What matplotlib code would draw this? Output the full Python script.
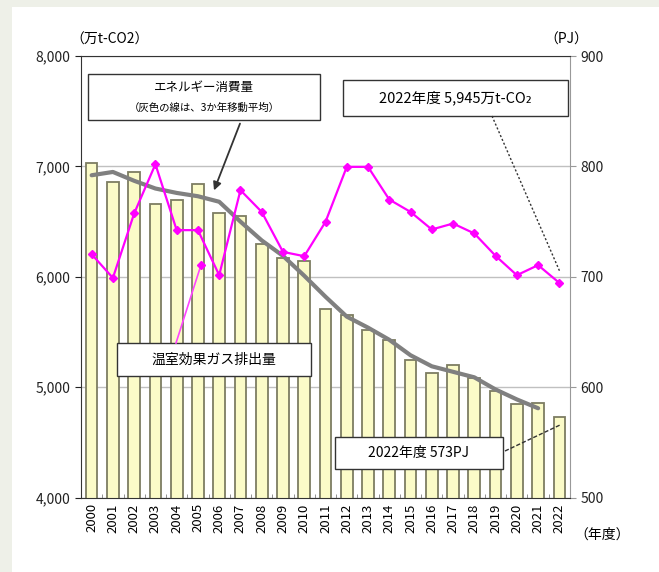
import numpy as np
import matplotlib
matplotlib.use('Agg')
import matplotlib.pyplot as plt
from matplotlib.patches import Rectangle

plt.rcParams['font.family'] = ['Noto Sans CJK JP', 'DejaVu Sans']

# Data
years = [str(y) for y in range(2000, 2023)]
energy_pj = [803, 786, 795, 766, 770, 784, 758, 755, 730, 717, 714, 671,
             665, 652, 643, 625, 613, 620, 608, 597, 585, 586, 573]
energy_avg = [792, 795, 787, 780, 776, 773, 768, 750, 733, 719, 701, 682,
              664, 654, 643, 629, 619, 614, 609, 598, 589, 581]
ghg = [6205, 5990, 6574, 7020, 6423, 6423, 6015, 6785, 6588, 6226, 6187, 6498,
       6996, 6996, 6700, 6588, 6429, 6483, 6393, 6190, 6015, 6106, 5945]

W, H = 659, 572


def fx(px):
    return px / W


def fy(py):
    return 1 - py / H


fig = plt.figure(figsize=(6.59, 5.72), dpi=100)
fig.patch.set_facecolor('white')
# light border strips of the screenshot
fig.patches.append(Rectangle((0, 0), fx(12), 1, transform=fig.transFigure,
                             facecolor='#eef0e8', edgecolor='none', zorder=0))
fig.patches.append(Rectangle((0, fy(7)), 1, fy(0) - fy(7), transform=fig.transFigure,
                             facecolor='#eef0e8', edgecolor='none', zorder=0))

ax = fig.add_axes([fx(81), fy(497.7), fx(570) - fx(81), fy(56) - fy(497.7)])
ax2 = ax.twinx()

x = np.arange(len(years))

# energy consumption bars and moving average (right axis)
ax2.bar(x, energy_pj, width=0.55, color='#fbfbc8', edgecolor='#7d7d62',
        linewidth=1.3, zorder=2)
ax2.plot(x[:len(energy_avg)], energy_avg, color='#808080', lw=3, zorder=3,
         solid_capstyle='round')
ax2.set_ylim(500, 900)
ax2.set_yticks([500, 600, 700, 800, 900])
ax2.yaxis.grid(True, color='#c0c0c0', lw=1)
ax2.set_axisbelow(True)

# GHG emissions (left axis)
ax.plot(x, ghg, color='#ff00ff', lw=1.6, marker='D', markersize=4.5, zorder=5)
ax.set_ylim(4000, 8000)
ax.set_yticks([4000, 5000, 6000, 7000, 8000])
ax.set_yticklabels([f'{v:,}' for v in [4000, 5000, 6000, 7000, 8000]])
ax.set_zorder(ax2.get_zorder() + 1)
ax.patch.set_visible(False)

ax.set_xlim(-0.5, len(years) - 0.5)
ax.set_xticks(x)
ax.set_xticklabels(years, rotation=90, fontsize=9.5)
ax.set_xticks(np.arange(-0.5, len(years)), minor=True)
ax.tick_params(axis='x', which='major', length=0, pad=4)
ax.tick_params(axis='x', which='minor', length=3, direction='in', color='#808080')
ax.tick_params(axis='y', length=4, labelsize=10, colors='#222222')
ax2.tick_params(axis='y', length=4, labelsize=10, color='#999999', labelcolor='#222222')

for s in ['left', 'bottom', 'top']:
    ax.spines[s].set_color('#333333')
ax.spines['right'].set_color('#999999')
for s in ax2.spines.values():
    s.set_visible(False)

# unit labels
fig.text(fx(70), fy(40), '（万t-CO2）', fontsize=10, va='center', ha='left')
fig.text(fx(588), fy(40), '（PJ）', fontsize=10, va='center', ha='right')
fig.text(fx(574), fy(535), '（年度）', fontsize=10, va='center', ha='left')


def box(x0, y0, x1, y1):
    fig.patches.append(Rectangle((fx(x0), fy(y1)), fx(x1) - fx(x0), fy(y0) - fy(y1),
                                 transform=fig.transFigure, facecolor='white',
                                 edgecolor='#333333', lw=1, zorder=10))


# energy callout
box(88, 74, 320, 120)
fig.text(fx(204), fy(88), 'エネルギー消費量', fontsize=9, ha='center', va='center', zorder=11)
fig.text(fx(204), fy(108), '（灰色の線は、3か年移動平均）', fontsize=7.5, ha='center',
         va='center', zorder=11)
fig.add_artist(matplotlib.patches.FancyArrowPatch(
    (fx(241), fy(121)), (fx(213), fy(193)), transform=fig.transFigure,
    arrowstyle='-|>', mutation_scale=12, color='#333333', lw=1.3, zorder=11))

# emissions 2022 callout
box(343, 80, 568, 116)
fig.text(fx(455), fy(98), '2022年度 5,945万t-CO₂', fontsize=10.5, ha='center',
         va='center', zorder=11)
fig.add_artist(plt.Line2D([fx(492), fx(560)], [fy(116), fy(272)],
                          transform=fig.transFigure, color='#333333', lw=1,
                          ls=(0, (1.5, 1.5)), zorder=11))

# emissions callout
box(117, 343, 311, 376)
fig.text(fx(214), fy(360), '温室効果ガス排出量', fontsize=10, ha='center',
         va='center', zorder=11)
fig.add_artist(plt.Line2D([fx(176), fx(201)], [fy(343), fy(265)],
                          transform=fig.transFigure, color='#ff44ff', lw=1.2,
                          zorder=11))
fig.add_artist(plt.Line2D([fx(201)], [fy(265)], transform=fig.transFigure,
                          color='#ff00ff', marker='D', markersize=4.5, zorder=11))

# energy 2022 callout
box(335, 437, 503, 469)
fig.text(fx(419), fy(453), '2022年度 573PJ', fontsize=10, ha='center',
         va='center', zorder=11)
fig.add_artist(plt.Line2D([fx(505), fx(560)], [fy(451), fy(425)],
                          transform=fig.transFigure, color='#333333', lw=1,
                          ls=(0, (3, 1.5)), zorder=11))

fig.savefig('out.png', dpi=100)
